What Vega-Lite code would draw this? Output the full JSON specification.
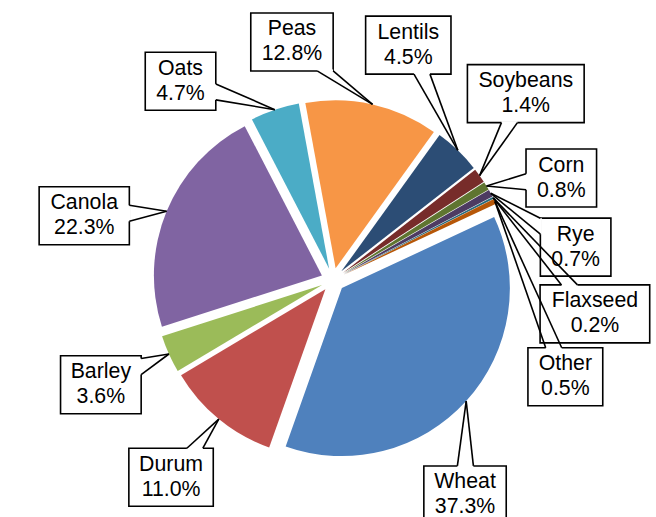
{
  "$schema": "https://vega.github.io/schema/vega-lite/v6.json",
  "width": 656,
  "height": 517,
  "padding": 0,
  "autosize": {"type": "none"},
  "background": "white",
  "config": {"view": {"stroke": null}},
  "data": {"values": [
    {"crop": "Wheat", "share": 37.3},
    {"crop": "Durum", "share": 11.0},
    {"crop": "Barley", "share": 3.6},
    {"crop": "Canola", "share": 22.3},
    {"crop": "Oats", "share": 4.7},
    {"crop": "Peas", "share": 12.8},
    {"crop": "Lentils", "share": 4.5},
    {"crop": "Soybeans", "share": 1.4},
    {"crop": "Corn", "share": 0.8},
    {"crop": "Rye", "share": 0.7},
    {"crop": "Flaxseed", "share": 0.2},
    {"crop": "Other", "share": 0.5}
  ]},
  "transform": [
    {"window": [{"op": "sum", "field": "share", "as": "cum"}, {"op": "row_number", "as": "idx"}], "frame": [null, 0]},
    {"joinaggregate": [{"op": "sum", "field": "share", "as": "total"}, {"op": "count", "as": "n"}]},
    {"calculate": "65*PI/180 + 2*PI*(datum.cum - datum.share)/datum.total", "as": "a0"},
    {"calculate": "65*PI/180 + 2*PI*datum.cum/datum.total", "as": "a1"},
    {"calculate": "(datum.a0 + datum.a1)/2", "as": "mid"},
    {"calculate": "12*sin(datum.mid)", "as": "ax"},
    {"calculate": "12*cos(datum.mid)", "as": "ay"},
    {"calculate": "180*sin(datum.mid)", "as": "tx"},
    {"calculate": "180*cos(datum.mid)", "as": "ty"},
    {"calculate": "datum.idx == 1 ? datum.n - 1 : datum.idx - 2", "as": "seq"},
    {"calculate": "datum.mid + (datum.idx == 1 ? 2*PI : 0)", "as": "m"},
    {"calculate": "format(datum.share, '.1f') + '%'", "as": "pct"},
    {"calculate": "[datum.crop, datum.pct]", "as": "lbl"},
    {"calculate": "21.3*(0.556*length(datum.crop) - 0.334*length(replace(datum.crop, regexp('[^ijl]','g'), '')) - 0.25*length(replace(datum.crop, regexp('[^frt]','g'), '')) + 0.2*length(replace(datum.crop, regexp('[^CDGHNOQUmwMW]','g'), '')))", "as": "nw"},
    {"calculate": "21.3*(0.556*(length(datum.pct) - 2) + 1.167)", "as": "pw"},
    {"calculate": "max(datum.nw, datum.pw) + 22", "as": "bw"},
    {"window": [{"op": "lag", "field": "m", "as": "pm"}, {"op": "lag", "field": "bw", "as": "pbw"}], "sort": [{"field": "seq"}]},
    {"calculate": "datum.seq == 0 ? 0 : min(((datum.bw + datum.pbw)/2 + 10)/(260*max(abs(cos((datum.m + datum.pm)/2)), 0.01)), 68/(260*max(abs(sin((datum.m + datum.pm)/2)), 0.01)))", "as": "g1"},
    {"window": [{"op": "sum", "field": "g1", "as": "G1"}], "sort": [{"field": "seq"}], "frame": [null, 0]},
    {"calculate": "datum.m - datum.G1", "as": "r1"},
    {"window": [{"op": "max", "field": "r1", "as": "f1"}], "sort": [{"field": "seq"}], "frame": [null, 0]},
    {"window": [{"op": "min", "field": "r1", "as": "k1"}], "sort": [{"field": "seq"}], "frame": [0, null]},
    {"calculate": "datum.G1 + 0.65*datum.f1 + 0.35*datum.k1", "as": "L1"},
    {"window": [{"op": "lag", "field": "L1", "as": "pL1"}], "sort": [{"field": "seq"}]},
    {"calculate": "datum.seq == 0 ? 0 : min(((datum.bw + datum.pbw)/2 + 10)/(260*max(abs(cos((datum.L1 + datum.pL1)/2)), 0.01)), 68/(260*max(abs(sin((datum.L1 + datum.pL1)/2)), 0.01)))", "as": "g2"},
    {"window": [{"op": "sum", "field": "g2", "as": "G2"}], "sort": [{"field": "seq"}], "frame": [null, 0]},
    {"calculate": "datum.m - datum.G2", "as": "r2"},
    {"window": [{"op": "max", "field": "r2", "as": "f2"}], "sort": [{"field": "seq"}], "frame": [null, 0]},
    {"window": [{"op": "min", "field": "r2", "as": "k2"}], "sort": [{"field": "seq"}], "frame": [0, null]},
    {"calculate": "datum.G2 + 0.65*datum.f2 + 0.35*datum.k2", "as": "L"},
    {"calculate": "206 + datum.bw/2*abs(sin(datum.L)) + 29*abs(cos(datum.L))", "as": "D"},
    {"calculate": "datum.D*sin(datum.L)", "as": "lx"},
    {"calculate": "datum.D*cos(datum.L)", "as": "ly"},
    {"calculate": "datum.lx - datum.bw/2", "as": "bx1"},
    {"calculate": "datum.lx + datum.bw/2", "as": "bx2"},
    {"calculate": "datum.ly - 29", "as": "by1"},
    {"calculate": "datum.ly + 29", "as": "by2"},
    {"calculate": "datum.tx - datum.lx", "as": "vx"},
    {"calculate": "datum.ty - datum.ly", "as": "vy"},
    {"calculate": "abs(datum.vx)*29 > abs(datum.vy)*datum.bw/2", "as": "vside"},
    {"calculate": "datum.vside ? clamp(datum.ly + datum.vy*(datum.bw/2)/abs(datum.vx), datum.ly - 21, datum.ly + 21) : clamp(datum.lx + datum.vx*29/abs(datum.vy), datum.lx - datum.bw/2 + 8, datum.lx + datum.bw/2 - 8)", "as": "bc"},
    {"calculate": "datum.vside ? datum.lx + (datum.vx > 0 ? 1 : -1)*datum.bw/2 : datum.bc - 8", "as": "b1x"},
    {"calculate": "datum.vside ? datum.bc - 8 : datum.ly + (datum.vy > 0 ? 1 : -1)*29", "as": "b1y"},
    {"calculate": "datum.vside ? datum.b1x : datum.bc + 8", "as": "b2x"},
    {"calculate": "datum.vside ? datum.bc + 8 : datum.b1y", "as": "b2y"}
  ],
  "layer": [
    {
      "mark": {"type": "arc", "radius": 168},
      "encoding": {
        "x": {"field": "ax", "type": "quantitative", "scale": {"domain": [-333, 323], "nice": false, "zero": false}, "axis": null},
        "y": {"field": "ay", "type": "quantitative", "scale": {"domain": [-237, 280], "nice": false, "zero": false}, "axis": null},
        "theta": {"field": "a0", "type": "quantitative", "scale": null, "stack": null},
        "theta2": {"field": "a1"},
        "color": {
          "field": "crop", "type": "nominal", "legend": null,
          "scale": {
            "domain": ["Wheat", "Durum", "Barley", "Canola", "Oats", "Peas", "Lentils", "Soybeans", "Corn", "Rye", "Flaxseed", "Other"],
            "range": ["#4F81BD", "#C0504D", "#9BBB59", "#8064A2", "#4BACC6", "#F79646", "#2C4D75", "#772C2A", "#5F7530", "#4D3B62", "#276A7C", "#B65708"]
          }
        }
      }
    },
    {
      "mark": {"type": "rect", "fill": "white", "stroke": "black", "strokeWidth": 1.6},
      "encoding": {
        "x": {"field": "bx1", "type": "quantitative", "scale": {"domain": [-333, 323], "nice": false, "zero": false}, "axis": null},
        "x2": {"field": "bx2"},
        "y": {"field": "by1", "type": "quantitative", "scale": {"domain": [-237, 280], "nice": false, "zero": false}, "axis": null},
        "y2": {"field": "by2"}
      }
    },
    {
      "mark": {"type": "rule", "stroke": "white", "strokeWidth": 3},
      "encoding": {
        "x": {"field": "b1x", "type": "quantitative", "scale": {"domain": [-333, 323], "nice": false, "zero": false}, "axis": null},
        "x2": {"field": "b2x"},
        "y": {"field": "b1y", "type": "quantitative", "scale": {"domain": [-237, 280], "nice": false, "zero": false}, "axis": null},
        "y2": {"field": "b2y"}
      }
    },
    {
      "mark": {"type": "rule", "stroke": "black", "strokeWidth": 1.6},
      "encoding": {
        "x": {"field": "tx", "type": "quantitative", "scale": {"domain": [-333, 323], "nice": false, "zero": false}, "axis": null},
        "x2": {"field": "b1x"},
        "y": {"field": "ty", "type": "quantitative", "scale": {"domain": [-237, 280], "nice": false, "zero": false}, "axis": null},
        "y2": {"field": "b1y"}
      }
    },
    {
      "mark": {"type": "rule", "stroke": "black", "strokeWidth": 1.6},
      "encoding": {
        "x": {"field": "tx", "type": "quantitative", "scale": {"domain": [-333, 323], "nice": false, "zero": false}, "axis": null},
        "x2": {"field": "b2x"},
        "y": {"field": "ty", "type": "quantitative", "scale": {"domain": [-237, 280], "nice": false, "zero": false}, "axis": null},
        "y2": {"field": "b2y"}
      }
    },
    {
      "mark": {"type": "text", "align": "center", "baseline": "middle", "dy": -12.5, "font": "Liberation Sans", "fontSize": 21.3, "lineHeight": 25, "color": "black"},
      "encoding": {
        "x": {"field": "lx", "type": "quantitative", "scale": {"domain": [-333, 323], "nice": false, "zero": false}, "axis": null},
        "y": {"field": "ly", "type": "quantitative", "scale": {"domain": [-237, 280], "nice": false, "zero": false}, "axis": null},
        "text": {"field": "lbl", "type": "nominal"}
      }
    }
  ]
}
